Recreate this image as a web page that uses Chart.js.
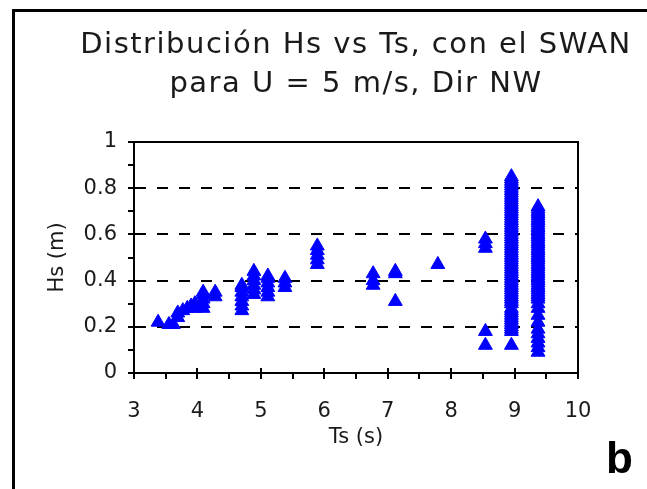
<!DOCTYPE html>
<html><head><meta charset="utf-8">
<script src="https://cdn.jsdelivr.net/npm/chart.js@4/dist/chart.umd.min.js"></script>
<style>html,body{margin:0;padding:0;background:#fff;} canvas{display:block}</style>
</head><body>
<div style="width:647px;height:489px;position:relative"><canvas id="c" width="647" height="489"></canvas></div>
<script>
const titleLines = ['Distribución Hs vs Ts, con el SWAN', 'para U = 5 m/s, Dir NW'];
const xAxisTitle = 'Ts (s)';
const yAxisTitle = 'Hs (m)';
const panelLabel = 'b';
const xTicks = [3, 4, 5, 6, 7, 8, 9, 10];
const yTicks = [0, 0.2, 0.4, 0.6, 0.8, 1];

// Ts (s) of each group of points and the Hs (m) values read at that Ts
const tsGroups = [3.38, 3.55, 3.62, 3.69, 3.77, 3.84, 3.90, 3.96, 4.09, 4.28, 4.70, 4.89, 5.11, 5.38, 5.89, 6.77, 7.12, 7.79, 8.54, 8.95, 9.37];
const hsGroups = [
  [0.22],
  [0.21],
  [0.21],
  [0.24, 0.26],
  [0.27],
  [0.28],
  [0.29],
  [0.28, 0.30],
  [0.28, 0.30, 0.32, 0.34, 0.35],
  [0.33, 0.35],
  [0.27, 0.29, 0.31, 0.33, 0.35, 0.37, 0.38],
  [0.34, 0.36, 0.38, 0.40, 0.42, 0.44],
  [0.33, 0.35, 0.37, 0.39, 0.41, 0.42],
  [0.37, 0.39, 0.41],
  [0.47, 0.49, 0.51, 0.53, 0.55],
  [0.38, 0.40, 0.43],
  [0.31, 0.43, 0.44],
  [0.47],
  [0.12, 0.18, 0.54, 0.56, 0.58],
  [0.12, 0.18, 0.19, 0.20, 0.21, 0.22, 0.23, 0.24, 0.25, 0.26, 0.27, 0.28, 0.30, 0.31, 0.32, 0.33, 0.34, 0.35, 0.36, 0.37, 0.38, 0.39, 0.40, 0.41, 0.42, 0.43, 0.44, 0.45, 0.46, 0.47, 0.48, 0.49, 0.50, 0.51, 0.52, 0.53, 0.54, 0.55, 0.56, 0.57, 0.58, 0.59, 0.60, 0.61, 0.62, 0.63, 0.64, 0.65, 0.66, 0.67, 0.68, 0.69, 0.70, 0.71, 0.72, 0.73, 0.74, 0.75, 0.76, 0.77, 0.78, 0.79, 0.80, 0.81, 0.82, 0.83, 0.84, 0.85],
  [0.09, 0.11, 0.13, 0.15, 0.17, 0.19, 0.22, 0.25, 0.28, 0.30, 0.32, 0.33, 0.34, 0.35, 0.36, 0.37, 0.38, 0.39, 0.40, 0.41, 0.42, 0.43, 0.44, 0.45, 0.46, 0.47, 0.48, 0.49, 0.50, 0.51, 0.52, 0.53, 0.54, 0.55, 0.56, 0.57, 0.58, 0.59, 0.60, 0.61, 0.62, 0.63, 0.64, 0.65, 0.66, 0.67, 0.68, 0.69, 0.70, 0.71, 0.72]
];

const points = tsGroups.flatMap((t, i) => hsGroups[i].map(h => ({x: t, y: h})));

const TXT = '#1a1a1a';
const FONT = "'DejaVu Sans', sans-serif";

const decor = {
  id: 'decor',
  afterDraw(chart) {
    const ctx = chart.ctx;
    const a = chart.chartArea;
    const xs = chart.scales.x, ys = chart.scales.y;
    ctx.save();
    // outer frame (left and top)
    ctx.fillStyle = '#000';
    ctx.fillRect(12, 9, 3, 480);
    ctx.fillRect(12, 9, 635, 3);
    // plot frame top / right
    ctx.strokeStyle = '#000';
    ctx.lineWidth = 2;
    ctx.beginPath();
    ctx.moveTo(a.left, a.top); ctx.lineTo(a.right, a.top); ctx.lineTo(a.right, a.bottom);
    ctx.stroke();
    // x ticks
    for (let v = 3; v <= 10.001; v += 0.5) {
      const px = Math.round(xs.getPixelForValue(v));
      const major = Math.abs(v - Math.round(v)) < 1e-6;
      ctx.beginPath();
      ctx.moveTo(px, a.bottom - (major ? 5 : 0));
      ctx.lineTo(px, a.bottom + 6);
      ctx.stroke();
    }
    // y ticks
    for (let k = 0; k <= 10; k++) {
      const v = k / 10;
      const py = Math.round(ys.getPixelForValue(v));
      const major = k % 2 === 0;
      ctx.beginPath();
      ctx.moveTo(a.left - 6, py);
      ctx.lineTo(a.left + (major ? 6 : 0), py);
      ctx.stroke();
    }
    // title
    ctx.fillStyle = TXT;
    ctx.font = "29px " + FONT;
    ctx.letterSpacing = '1.5px';
    ctx.textAlign = 'center';
    ctx.textBaseline = 'alphabetic';
    const cx = (a.left + a.right) / 2;
    ctx.fillText(titleLines[0], cx, 53);
    ctx.fillText(titleLines[1], cx, 92);
    ctx.letterSpacing = '0px';
    // panel label
    ctx.fillStyle = '#000';
    ctx.font = "bold 44px 'Liberation Sans', Arial, sans-serif";
    ctx.textAlign = 'left';
    ctx.fillText(panelLabel, 606, 473);
    ctx.restore();
  }
};

new Chart(document.getElementById('c'), {
  type: 'scatter',
  data: {
    datasets: [{
      data: points,
      pointStyle: 'triangle',
      radius: 8,
      hoverRadius: 8,
      backgroundColor: '#0000ff',
      borderColor: '#0000ff',
      borderWidth: 1
    }]
  },
  options: {
    responsive: false,
    animation: false,
    devicePixelRatio: 1,
    layout: {padding: {left: 0, top: 142, right: 69, bottom: 0}},
    plugins: {legend: {display: false}, tooltip: {enabled: false}, title: {display: false}},
    scales: {
      x: {
        type: 'linear', min: 3, max: 10,
        afterBuildTicks: s => { s.ticks = xTicks.map(v => ({value: v})); },
        afterFit: s => { s.height = 489 - 373; },
        grid: {display: false, drawTicks: false},
        border: {display: true, color: '#000', width: 2},
        ticks: {color: TXT, font: {family: FONT, size: 21}, padding: 26, maxRotation: 0,
                callback: v => String(v)},
        title: {display: true, text: xAxisTitle, color: TXT, font: {family: FONT, size: 21}, padding: {top: 0, bottom: 39}}
      },
      y: {
        type: 'linear', min: 0, max: 1,
        afterBuildTicks: s => { s.ticks = yTicks.map(v => ({value: v})); },
        afterFit: s => { s.width = 134; },
        grid: {
          drawTicks: false,
          lineWidth: 2,
          color: c => (c.tick && (c.tick.value === 0 || c.tick.value === 1)) ? 'rgba(0,0,0,0)' : '#000'
        },
        border: {display: true, color: '#000', width: 2, dash: [11, 11], dashOffset: 0},
        ticks: {color: TXT, font: {family: FONT, size: 21}, padding: 17,
                callback: v => String(Math.round(v * 10) / 10)},
        title: {display: true, text: yAxisTitle, color: TXT, font: {family: FONT, size: 21}, padding: {top: 45, bottom: 0}}
      }
    }
  },
  plugins: [decor]
});
</script>
</body></html>
